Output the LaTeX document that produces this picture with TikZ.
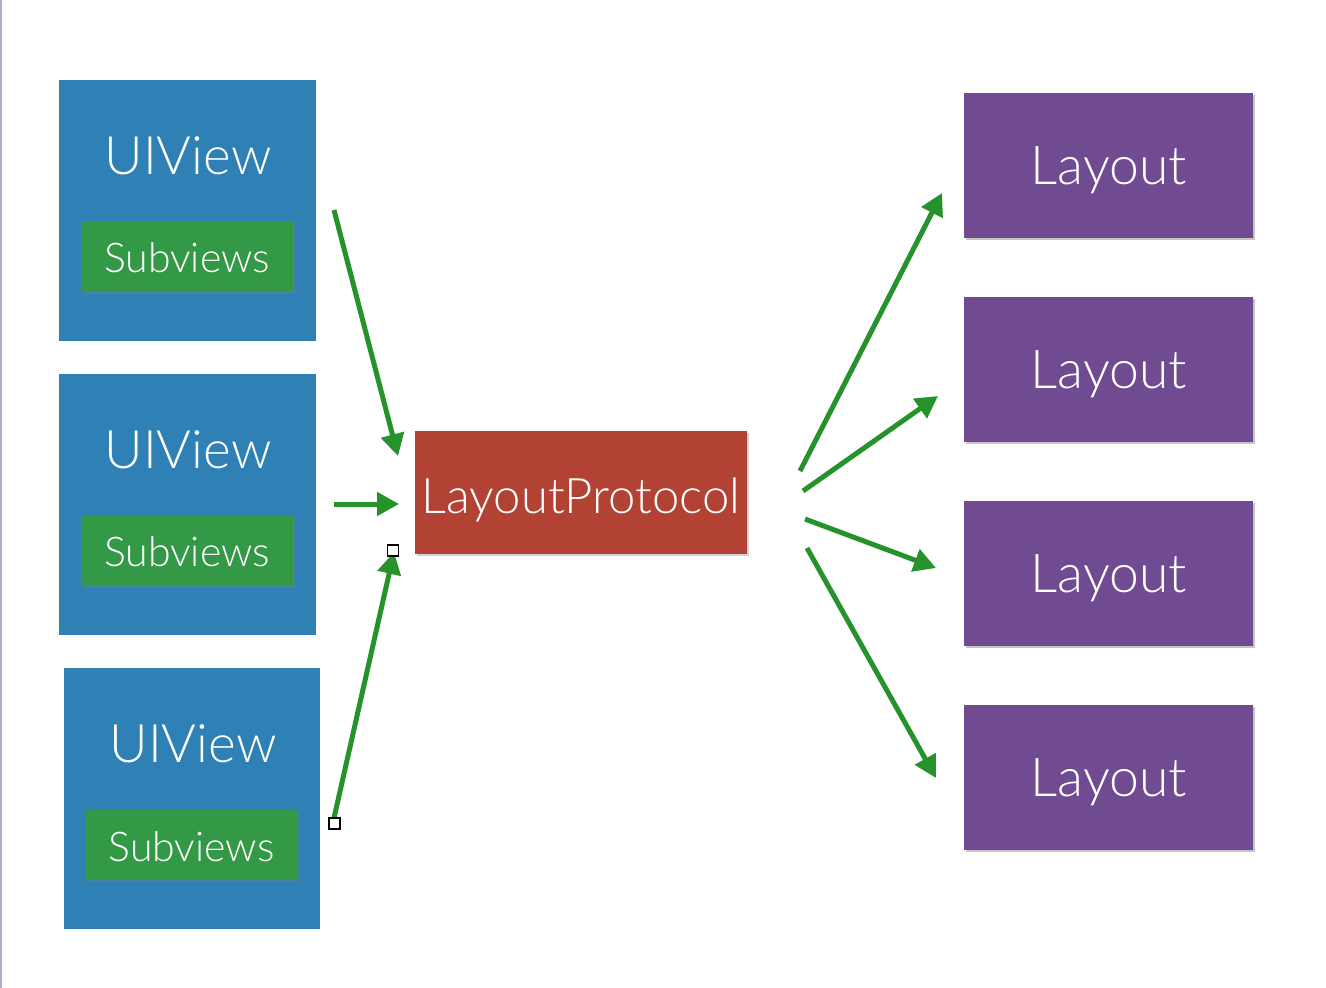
\documentclass[tikz,border=0pt]{standalone}
\usepackage{fontspec}
\setmainfont{Lato Light}
\usetikzlibrary{arrows.meta,shadows}
\definecolor{viewblue}{RGB}{47,128,180}
\definecolor{subgreen}{RGB}{52,153,70}
\definecolor{protored}{RGB}{178,66,52}
\definecolor{layoutpurple}{RGB}{112,75,145}
\definecolor{arrowgreen}{RGB}{38,146,44}
\definecolor{edgegray}{RGB}{168,178,196}
\tikzset{
  box/.style={inner sep=0pt, outer sep=0pt, draw=none},
  viewbox/.style={box, fill=viewblue, minimum width=257pt, minimum height=261pt},
  subbox/.style={box, fill=subgreen, minimum width=212pt, minimum height=71pt,
    drop shadow={shadow xshift=1.5pt, shadow yshift=-1.5pt, opacity=0.35}},
  protobox/.style={box, fill=protored, minimum width=332pt, minimum height=123pt,
    drop shadow={shadow xshift=1.5pt, shadow yshift=-1.5pt, opacity=0.35}},
  layoutbox/.style={box, fill=layoutpurple, minimum width=289pt, minimum height=145pt,
    drop shadow={shadow xshift=2pt, shadow yshift=-2pt, opacity=0.45}},
  lbl/.style={text=white, inner sep=0pt, anchor=base},
  viewtext/.style={lbl, font=\fontsize{53}{53}\selectfont},
  subtext/.style={lbl, font=\fontsize{41}{41}\selectfont},
  prototext/.style={lbl, font=\fontsize{49}{49}\selectfont},
  layouttext/.style={lbl, font=\fontsize{53.5}{53.5}\selectfont},
  flow/.style={draw=arrowgreen, line width=5pt, -{Triangle[length=22pt,width=23pt]}},
  handle/.style={draw=black, fill=white, line width=1.2pt, minimum size=11pt, inner sep=0pt}
}
\begin{document}
\begin{tikzpicture}[x=1pt, y=-1pt]
\useasboundingbox (0,0) rectangle (1326,988);
\fill[white] (0,0) rectangle (1326,988);
\fill[edgegray] (0,0) rectangle (1.6,988);

% view stacks on the left
\node[viewbox] (v1) at (187.5,210.5) {};
\node[subbox] (s1) at (187,256.5) {};
\node[viewtext] (v1t) at (188,174) {UIView};
\node[subtext] (s1t) at (187,272) {Subviews};

\node[viewbox] (v2) at (187.5,504.5) {};
\node[subbox] (s2) at (187,550.5) {};
\node[viewtext] (v2t) at (188,468) {UIView};
\node[subtext] (s2t) at (187,566) {Subviews};

\node[viewbox, minimum width=256pt] (v3) at (192,798.5) {};
\node[subbox, minimum width=211pt, minimum height=70pt] (s3) at (191.5,845) {};
\node[viewtext] (v3t) at (193,762) {UIView};
\node[subtext] (s3t) at (191.5,861) {Subviews};

% protocol in the middle
\node[protobox] (proto) at (581,492.5) {};
\node[prototext] (protot) at (581,513) {LayoutProtocol};

% layouts on the right
\foreach \i/\y in {1/165.5,2/369.5,3/573.5,4/777.5}{
  \node[layoutbox] (l\i) at (1108.5,\y) {};
  \node[layouttext] (l\i t) at (1109,\y+18.5) {Layout};
}

% connector ends
\coordinate (a1s) at (334,210);  \coordinate (a1e) at (398,456);
\coordinate (a2s) at (334,504);  \coordinate (a2e) at (399,504);
\coordinate (a3s) at (334,818);  \coordinate (a3e) at (394,552);
\coordinate (b1s) at (800,471);  \coordinate (b1e) at (942,193);
\coordinate (b2s) at (803,491);  \coordinate (b2e) at (938,396);
\coordinate (b3s) at (805,519);  \coordinate (b3e) at (936,568);
\coordinate (b4s) at (807,548);  \coordinate (b4e) at (936,778);

\draw[flow] (a1s) -- (a1e);
\draw[flow] (a2s) -- (a2e);
\draw[flow] (a3s) -- (a3e);
\draw[flow] (b1s) -- (b1e);
\draw[flow] (b2s) -- (b2e);
\draw[flow] (b3s) -- (b3e);
\draw[flow] (b4s) -- (b4e);

% selection handles of the lower connector
\node[handle] (h1) at (393,550.5) {};
\node[handle] (h2) at (334.5,823.5) {};
\end{tikzpicture}
\end{document}
